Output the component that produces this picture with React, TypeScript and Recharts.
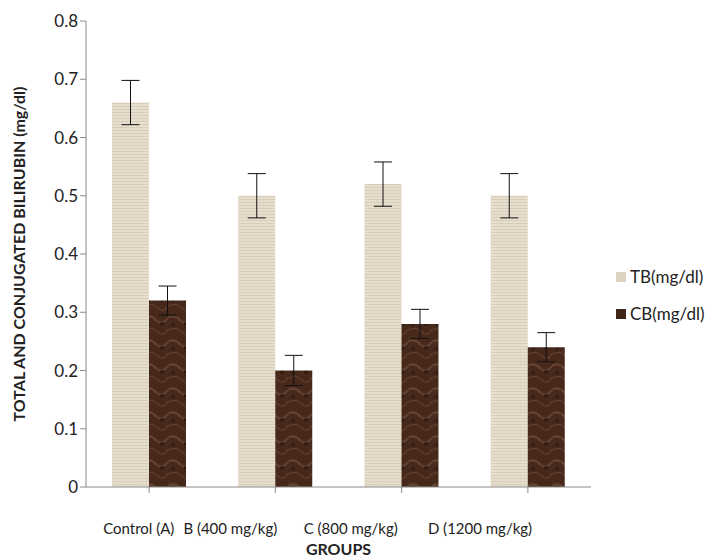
import { BarChart, Bar, XAxis, YAxis, ErrorBar } from 'recharts'

const groups = ['Control (A)', 'B (400 mg/kg)', 'C (800 mg/kg)', 'D (1200 mg/kg)']
const tbValues = [0.66, 0.5, 0.52, 0.5]
const tbErrors = [0.038, 0.038, 0.038, 0.038]
const cbValues = [0.32, 0.2, 0.28, 0.24]
const cbErrors = [0.025, 0.026, 0.025, 0.025]
const yTicks = [0, 0.1, 0.2, 0.3, 0.4, 0.5, 0.6, 0.7, 0.8]

const data = groups.map((g, i) => ({
    group: g,
    tb: tbValues[i],
    tbErr: tbErrors[i],
    cb: cbValues[i],
    cbErr: cbErrors[i],
}))

const font = 'Lato, "Open Sans", sans-serif'

// labels in the source sit left of their categories
const labelShift = [-46, -92, -98, -100]

function GroupTick(props: any) {
    const { x, y, payload, index } = props
    return (
        <text x={x + labelShift[index]} y={y + 39} fontSize={15} fill="#222" fontFamily={font} textAnchor="start">
            {payload.value}
        </text>
    )
}

function LegendBox() {
    const items = [
        { name: 'TB(mg/dl)', color: '#ddd3c0' },
        { name: 'CB(mg/dl)', color: '#3f2618' },
    ]
    return (
        <div style={{ position: 'absolute', left: 616, top: 258, fontFamily: font, fontSize: 17, color: '#222' }}>
            {items.map((it) => (
                <div key={it.name} style={{ display: 'flex', alignItems: 'center', height: 37 }}>
                    <span style={{ width: 10, height: 10, background: it.color, marginRight: 4, display: 'inline-block' }} />
                    {it.name}
                </div>
            ))}
        </div>
    )
}

export default function App() {
    return (
        <div style={{ position: 'absolute', left: 0, top: 0, width: 716, height: 560, background: '#fff' }}>
            <BarChart
                width={716}
                height={560}
                data={data}
                margin={{ top: 21, right: 125, left: 0, bottom: 43 }}
                barGap={0}
                barCategoryGap="21%"
            >
                <defs>
                    <pattern id="burlap" width="6" height="6" patternUnits="userSpaceOnUse">
                        <rect width="6" height="6" fill="#e9e1d1" />
                        <path d="M0 1.5 H6 M0 4.5 H6" stroke="#d6ccb7" strokeWidth="1" />
                        <path d="M2 0 V6 M5 0 V6" stroke="#ddd3c0" strokeWidth="0.8" />
                    </pattern>
                    <pattern id="marble" width="24" height="24" patternUnits="userSpaceOnUse">
                        <rect width="24" height="24" fill="#47291b" />
                        <path d="M0 6 Q6 2 12 8 T24 6" stroke="#654231" strokeWidth="2" fill="none" />
                        <path d="M0 18 Q8 14 14 20 T24 17" stroke="#5a3a28" strokeWidth="1.5" fill="none" />
                        <circle cx="18" cy="12" r="2" fill="#2e1a10" />
                        <circle cx="5" cy="13" r="1.5" fill="#2e1a10" />
                    </pattern>
                </defs>
                <XAxis
                    dataKey="group"
                    height={30}
                    stroke="#8a8a8a"
                    tickSize={6}
                    tick={<GroupTick />}
                    interval={0}
                    label={{ value: 'GROUPS', position: 'insideBottom', offset: -38, fontSize: 16, fontWeight: 700, fill: '#222', fontFamily: font }}
                />
                <YAxis
                    width={86}
                    domain={[0, 0.8]}
                    ticks={yTicks}
                    stroke="#8a8a8a"
                    tickSize={6}
                    tick={{ fontSize: 17, fill: '#222', fontFamily: font }}
                    tickFormatter={(v: number) => String(v)}
                    label={{
                        value: 'TOTAL AND CONJUGATED BILIRUBIN (mg/dl)',
                        angle: -90,
                        position: 'insideLeft',
                        dx: 14,
                        style: { textAnchor: 'middle' },
                        fontSize: 16,
                        fontWeight: 700,
                        fill: '#222',
                        fontFamily: font,
                    }}
                />
                <Bar dataKey="tb" name="TB(mg/dl)" fill="url(#burlap)" barSize={37} isAnimationActive={false}>
                    <ErrorBar dataKey="tbErr" width={9} stroke="#111" strokeWidth={1} />
                </Bar>
                <Bar dataKey="cb" name="CB(mg/dl)" fill="url(#marble)" barSize={37} isAnimationActive={false}>
                    <ErrorBar dataKey="cbErr" width={9} stroke="#111" strokeWidth={1} />
                </Bar>
            </BarChart>
            <LegendBox />
        </div>
    )
}
